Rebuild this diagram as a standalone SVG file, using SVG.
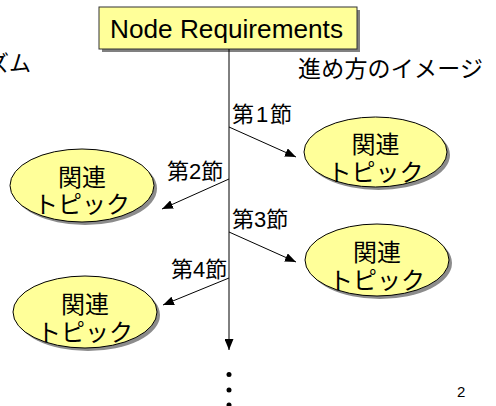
<svg xmlns="http://www.w3.org/2000/svg" width="496" height="406" viewBox="0 0 496 406">
<style>
text{font-family:"Liberation Sans","Noto Sans CJK JP",sans-serif;fill:#000}
.topic ellipse.f{fill:#FFFF99;stroke:#000;stroke-width:1}
.topic ellipse.s{fill:#8c8c8c}
.topic text{font-size:24px;text-anchor:middle}
.lbl{font-size:22px}
.conn line{stroke:#000;stroke-width:1;marker-end:url(#ah)}
</style>
<defs>
<marker id="ah" markerUnits="userSpaceOnUse" markerWidth="11" markerHeight="9" refX="11" refY="4.5" orient="auto">
<path d="M0,0 L11,4.5 L0,9 z" fill="#000"/>
</marker>
</defs>
<rect width="496" height="406" fill="#fff"/>
<text x="31" y="71" font-size="22" text-anchor="end">ズム</text>
<text x="298" y="77" font-size="23" textLength="185" lengthAdjust="spacing">進め方のイメージ</text>
<text x="457" y="397" font-size="15">2</text>
<g id="root">
<rect x="102" y="10" width="258" height="42" fill="#808080"/>
<rect x="99" y="7" width="258" height="42" fill="#FFFF99" stroke="#333" stroke-width="1"/>
<text x="110" y="37.5" font-size="25" textLength="233" lengthAdjust="spacingAndGlyphs">Node Requirements</text>
</g>
<g id="connectors" class="conn">
<line x1="229" y1="49" x2="229" y2="350" stroke="#333"/>
<line x1="229" y1="127" x2="296" y2="157"/>
<line x1="229" y1="179" x2="162" y2="209"/>
<line x1="229" y1="232" x2="296" y2="262"/>
<line x1="229" y1="278" x2="163" y2="305"/>
</g>
<g id="labels" class="lbl">
<text x="232" y="121.5" textLength="60" lengthAdjust="spacing">第1節</text>
<text x="167" y="179">第2節</text>
<text x="232" y="227">第3節</text>
<text x="171" y="277">第4節</text>
</g>
<g id="dots" fill="#000">
<circle cx="229" cy="374.5" r="2.5"/>
<circle cx="229" cy="390" r="2.5"/>
<circle cx="229" cy="405" r="2.5"/>
</g>
<g id="topic1" class="topic">
<ellipse class="s" cx="378.5" cy="155" rx="71.5" ry="35"/>
<ellipse class="f" cx="375.5" cy="152" rx="71.5" ry="35"/>
<text x="375.5" y="153">関連</text>
<text x="375.5" y="181">トピック</text>
</g>
<g id="topic2" class="topic">
<ellipse class="s" cx="85" cy="188.5" rx="72" ry="36.5"/>
<ellipse class="f" cx="82" cy="185.5" rx="72" ry="36.5"/>
<text x="82" y="186">関連</text>
<text x="82" y="213">トピック</text>
</g>
<g id="topic3" class="topic">
<ellipse class="s" cx="380" cy="263" rx="72" ry="36"/>
<ellipse class="f" cx="377" cy="260" rx="72" ry="36"/>
<text x="377" y="261">関連</text>
<text x="377" y="289">トピック</text>
</g>
<g id="topic4" class="topic">
<ellipse class="s" cx="88" cy="315" rx="72" ry="36"/>
<ellipse class="f" cx="85" cy="312" rx="72" ry="36"/>
<text x="85" y="313">関連</text>
<text x="85" y="341">トピック</text>
</g>
</svg>
